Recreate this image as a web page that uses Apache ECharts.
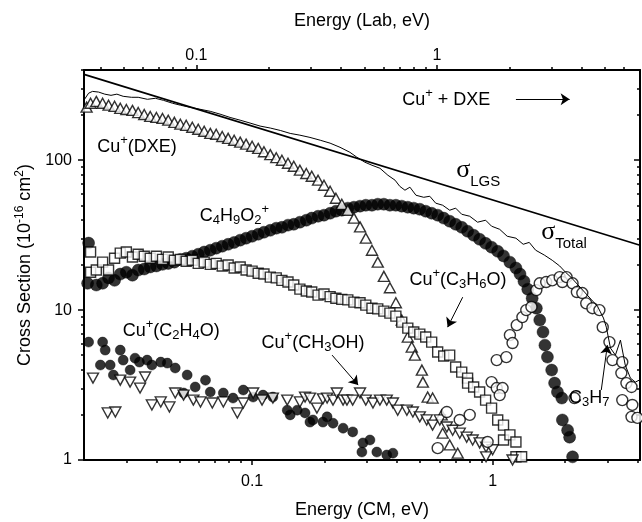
<!DOCTYPE html>
<html>
<head>
  <meta charset="UTF-8">
  <title>Cu+ + DXE cross sections</title>
  <script src="https://cdn.jsdelivr.net/npm/echarts@6.0.0/dist/echarts.min.js"></script>
  <style>
    html, body { margin: 0; padding: 0; background: #fff; }
    #chart { width: 642px; height: 522px; }
  </style>
</head>
<body>
<div id="chart"></div>
<script>
  // axis ranges and ticks (CM energy bottom, Lab energy top)
  var cmRange = [0.02, 4.1];
  var sigmaRange = [1, 400];
  var labPerCm = (63.55 + 90.12) / 90.12;
  var cmMajor = [0.1, 1];
  var cmMinor = [0.03, 0.04, 0.05, 0.06, 0.07, 0.08, 0.09, 0.2, 0.3, 0.4, 0.5, 0.6, 0.7, 0.8, 0.9, 2, 3, 4];
  var labMajor = [0.1, 1];
  var labMinor = [0.04, 0.05, 0.06, 0.07, 0.08, 0.09, 0.2, 0.3, 0.4, 0.5, 0.6, 0.7, 0.8, 0.9, 2, 3, 4, 5, 6];
  var yMajor = [1, 10, 100];
  var yMinor = [2, 3, 4, 5, 6, 7, 8, 9, 20, 30, 40, 50, 60, 70, 80, 90, 200, 300, 400];

  // [energy CM (eV), cross section (1e-16 cm2)]
  var lgs = [[0.02, 374], [4.1, 27.1]];

  var total = [
    [0.0201,255],[0.0209,280],[0.0217,288],[0.0230,285],[0.0244,276],[0.0259,271],[0.0274,276],
    [0.0291,267],[0.0315,263],[0.0336,263],[0.0367,255],[0.0396,259],[0.0428,251],[0.0467,240],
    [0.0503,233],[0.0548,226],[0.0606,219],[0.0670,212],[0.0736,203],[0.0810,193],[0.0892,185],
    [0.0981,177],[0.108,169],[0.119,164],[0.131,158],[0.144,151],[0.158,147],[0.174,142],
    [0.192,136],[0.211,130],[0.232,122],[0.255,113],[0.272,105],[0.294,97.1],[0.315,92.6],
    [0.340,88.4],[0.367,79.4],[0.393,73.6],[0.411,67.0],[0.432,63.1],[0.453,66.1],[0.480,58.4],
    [0.517,56.6],[0.548,57.5],[0.580,51.7],[0.620,50.1],[0.663,46.4],[0.702,47.9],[0.744,43.6],
    [0.803,42.3],[0.866,38.6],[0.935,39.8],[0.990,36.3],[1.07,34.6],[1.15,31.1],[1.25,30.2],
    [1.34,27.5],[1.42,28.3],[1.51,25.1],[1.64,23.3],[1.77,21.5],[1.90,19.7],[2.01,17.9],
    [2.13,16.4],[2.25,14.9],[2.41,13.2],[2.58,11.7],[2.73,10.6],[2.89,8.85],[2.97,7.70],
    [3.09,5.58],[3.24,5.01],[3.40,6.31],[3.56,4.30],[3.74,3.52],[3.92,3.31],[4.07,3.41]
  ];

  var cuDxe = [
    [0.0205,226],[0.0213,240],[0.0225,247],[0.0239,240],[0.0253,233],[0.0268,229],[0.0283,222],
    [0.0300,218],[0.0318,215],[0.0336,208],[0.0356,202],[0.0377,196],[0.0400,193],[0.0424,190],
    [0.0448,185],[0.0475,179],[0.0503,174],[0.0532,171],[0.0564,166],[0.0597,161],[0.0632,156],
    [0.0670,151],[0.0709,149],[0.0751,144],[0.0795,140],[0.0842,136],[0.0892,132],[0.0944,128],
    [0.100,124],[0.106,120],[0.112,114],[0.119,109],[0.126,104],[0.133,100],[0.141,95.5],
    [0.149,91.2],[0.158,85.8],[0.168,81.6],[0.177,78.2],[0.188,73.6],[0.199,68.1],[0.211,62.1],
    [0.223,55.8],[0.236,50.8],[0.250,46.4],[0.265,41.1],[0.281,35.9],[0.297,30.2],[0.315,25.1],
    [0.333,20.9],[0.353,16.8],[0.374,14.1],[0.396,11.2],[0.419,8.58],[0.444,6.61],[0.461,5.67],
    [0.475,5.01],[0.508,3.98],[0.513,3.31],[0.537,2.63],[0.563,2.59],[0.614,2.00],[0.620,1.51],
    [0.663,1.26],[0.716,1.11]
  ];

  var c4h9o2 = [
    [0.0207,15.1],[0.0209,28.0],[0.0225,14.7],[0.0239,15.1],[0.0253,16.4],[0.0268,15.8],[0.0283,17.4],
    [0.0300,17.9],[0.0318,17.1],[0.0336,18.5],[0.0356,18.8],[0.0377,19.4],[0.0400,19.7],[0.0424,20.2],
    [0.0448,20.5],[0.0475,20.9],[0.0503,21.8],[0.0532,22.2],[0.0564,22.9],[0.0597,23.6],[0.0632,24.4],
    [0.0670,25.1],[0.0709,25.9],[0.0751,26.7],[0.0795,27.5],[0.0842,28.3],[0.0892,29.3],[0.0944,30.2],
    [0.100,31.1],[0.106,32.1],[0.112,33.1],[0.119,34.1],[0.126,35.2],[0.133,35.7],[0.141,36.9],
    [0.149,37.4],[0.158,38.6],[0.168,39.8],[0.177,41.1],[0.188,42.3],[0.199,43.0],[0.211,44.3],
    [0.223,45.7],[0.236,46.4],[0.250,47.9],[0.265,48.6],[0.281,49.4],[0.297,50.1],[0.315,50.1],
    [0.333,50.9],[0.353,50.9],[0.374,50.1],[0.396,50.1],[0.419,49.4],[0.444,48.6],[0.470,47.9],
    [0.498,47.1],[0.527,45.7],[0.558,44.3],[0.591,43.0],[0.626,41.1],[0.663,39.2],[0.702,37.4],
    [0.744,35.7],[0.787,33.6],[0.834,31.6],[0.883,29.7],[0.935,27.9],[0.990,26.3],[1.05,24.7],
    [1.11,23.0],[1.18,20.9],[1.25,19.1],[1.30,17.4],[1.35,15.6],[1.40,13.8],[1.46,12.0],
    [1.52,10.3],[1.57,8.58],[1.62,7.14],[1.65,5.84],[1.69,4.86],[1.76,3.98],[1.81,3.26],
    [1.86,2.84],[1.94,2.59],[1.95,1.85],[2.05,1.58],[2.09,1.42],[2.15,1.05]
  ];

  var cuC3h6o = [
    [0.0213,24.4],[0.0213,17.9],[0.0225,18.5],[0.0239,20.9],[0.0253,18.5],[0.0268,22.2],[0.0283,24.0],
    [0.0300,24.4],[0.0318,22.6],[0.0336,23.6],[0.0356,22.9],[0.0377,22.2],[0.0400,22.9],[0.0424,21.8],
    [0.0448,22.6],[0.0475,21.5],[0.0503,21.8],[0.0532,21.2],[0.0564,21.5],[0.0597,20.5],[0.0632,20.9],
    [0.0670,20.2],[0.0709,20.5],[0.0751,19.7],[0.0795,20.0],[0.0842,19.1],[0.0892,19.4],[0.0944,18.5],
    [0.100,18.2],[0.106,17.6],[0.112,17.4],[0.119,16.6],[0.126,16.4],[0.133,15.8],[0.141,15.4],
    [0.149,14.7],[0.158,13.8],[0.168,13.4],[0.177,13.2],[0.188,12.6],[0.199,12.8],[0.211,12.3],
    [0.223,12.0],[0.236,11.8],[0.250,11.7],[0.265,11.3],[0.281,11.2],[0.297,10.8],[0.315,10.3],
    [0.333,10.2],[0.353,9.85],[0.374,9.55],[0.396,9.12],[0.419,8.32],[0.444,7.58],[0.470,7.14],
    [0.498,6.92],[0.527,6.61],[0.558,6.12],[0.591,5.25],[0.626,4.94],[0.663,5.01],[0.702,4.17],
    [0.744,3.86],[0.787,3.52],[0.787,3.26],[0.834,3.07],[0.883,2.84],[0.935,2.51],[0.990,2.22],
    [1.05,1.85],[1.11,1.71],[1.11,1.36],[1.18,1.47],[1.25,1.32],[1.25,1.05],[1.32,1.05]
  ];

  var cuC2h4o = [
    [0.0209,6.12],[0.0239,6.12],[0.0245,5.41],[0.0234,4.30],[0.0257,4.30],[0.0265,3.69],[0.0283,5.41],
    [0.0291,4.64],[0.0311,3.98],[0.0326,4.78],[0.0340,4.50],[0.0366,4.64],[0.0383,4.30],[0.0417,4.50],
    [0.0444,4.43],[0.0479,4.11],[0.0519,2.80],[0.0537,3.69],[0.0580,3.07],[0.0640,3.41],[0.0670,2.84],
    [0.0759,2.80],[0.0833,2.59],[0.0919,2.93],[0.101,2.63],[0.111,2.71],[0.122,2.63],[0.140,2.15],
    [0.144,2.00],[0.154,2.15],[0.166,2.06],[0.174,1.79],[0.179,1.85],[0.197,1.79],[0.205,1.94],
    [0.217,1.76],[0.239,1.63],[0.262,1.54],[0.286,1.13],[0.289,1.30],[0.309,1.36],[0.330,1.13],
    [0.363,1.08],[0.385,1.11]
  ];

  var cuCh3oh = [
    [0.0218,3.52],[0.0251,2.06],[0.0270,2.09],[0.0283,3.41],[0.0311,3.31],[0.0342,3.02],[0.0359,3.58],
    [0.0383,2.33],[0.0417,2.44],[0.0453,2.26],[0.0479,2.80],[0.0519,2.71],[0.0570,2.51],[0.0610,2.44],
    [0.0683,2.40],[0.0759,2.44],[0.0868,2.06],[0.0919,2.40],[0.101,2.80],[0.110,2.51],[0.122,2.59],
    [0.140,2.51],[0.158,2.44],[0.166,2.63],[0.174,2.59],[0.186,2.22],[0.197,2.56],[0.205,2.59],
    [0.217,2.51],[0.225,2.80],[0.239,2.51],[0.248,2.51],[0.262,2.51],[0.281,2.80],[0.297,2.51],
    [0.318,2.40],[0.340,2.51],[0.363,2.51],[0.385,2.40],[0.403,2.15],[0.440,2.15],[0.466,2.09],
    [0.498,1.94],[0.532,1.85],[0.563,1.71],[0.603,1.85],[0.645,1.66],[0.682,1.58],[0.730,1.51],
    [0.780,1.42],[0.826,1.36],[0.883,1.30],[0.939,1.22],[1.0,1.17],[0.939,1.05],[1.21,1.0]
  ];

  var c3h7 = [
    [0.591,1.20],[0.645,2.09],[0.730,1.85],[0.803,2.00],[0.953,1.32],[0.990,3.31],[1.04,3.02],
    [1.10,3.02],[1.07,2.71],[1.04,4.64],[1.14,4.86],[1.18,6.81],[1.21,6.03],[1.26,7.94],[1.33,8.98],
    [1.38,10.0],[1.45,10.5],[1.52,13.6],[1.57,15.1],[1.67,15.4],[1.77,15.8],[1.90,16.6],[1.95,15.4],
    [2.03,16.6],[2.15,15.1],[2.24,13.2],[2.36,13.0],[2.45,11.1],[2.60,10.3],[2.78,10.0],[2.87,7.70],
    [3.06,6.12],[3.15,4.64],[3.46,4.50],[3.43,3.80],[3.60,3.26],[3.78,3.07],[3.46,2.51],[3.81,2.33],
    [3.78,1.94],[4.0,1.91],[2.19,2.59]
  ];

  var INK = '#000';
  var FONT = "'Liberation Sans', Arial, Helvetica, sans-serif";

  function fmt(v) { return String(+Number(v).toPrecision(3)); }

  function tickAxis(o) {
    var ax = {
      type: 'log', logBase: 10, position: o.position, min: o.min, max: o.max, offset: 0,
      axisLine: { show: !!o.line, onZero: false, lineStyle: { color: INK, width: 2 } },
      splitLine: { show: false },
      axisTick: { show: true, inside: !!o.inside, length: o.len, customValues: o.ticks,
        lineStyle: { color: INK, width: 1.5 } },
      axisLabel: o.labels ? { show: true, customValues: o.labels, formatter: fmt, margin: o.margin,
        color: INK, fontFamily: FONT, fontSize: 16 } : { show: false }
    };
    if (o.name) {
      ax.name = o.name;
      ax.nameLocation = 'middle';
      ax.nameGap = o.nameGap;
      ax.nameMoveOverlap = false;
      ax.nameTextStyle = { color: INK, fontFamily: FONT, fontSize: 18,
        rich: { sup: { fontFamily: FONT, fontSize: 12, padding: [0, 0, 10, 0], color: INK } } };
    }
    return ax;
  }

  var labRange = [cmRange[0] * labPerCm, cmRange[1] * labPerCm];

  var rich = {
    sub: { fontFamily: FONT, fontSize: 13, padding: [10, 0, 0, 0], color: INK },
    sup: { fontFamily: FONT, fontSize: 13, padding: [0, 0, 12, 0], color: INK },
    g: { fontFamily: "'Liberation Serif', serif", fontSize: 26, color: INK },
    s: { fontFamily: FONT, fontSize: 15, padding: [24, 0, 0, 0], color: INK }
  };

  function note(coord, text) {
    return { coord: coord, label: { formatter: text } };
  }
  function arrow(a, b) {
    return [{ coord: a }, { coord: b }];
  }

  function marks(name, data, symbol, size, filled, extra) {
    var s = {
      name: name, type: 'scatter', data: data, symbol: symbol, symbolSize: size,
      xAxisIndex: 0, yAxisIndex: 0, animation: false, silent: true,
      itemStyle: filled ? { color: INK, borderColor: INK, borderWidth: 0.5 }
                        : { color: '#fff', borderColor: INK, borderWidth: 1.4 },
      emphasis: { disabled: true }
    };
    return Object.assign(s, extra || {});
  }

  var chart = echarts.init(document.getElementById('chart'));
  chart.setOption({
    backgroundColor: '#fff',
    animation: false,
    grid: { left: 84, right: 2, top: 70, bottom: 62, outerBoundsMode: 'none', containLabel: false },
    xAxis: [
      tickAxis({ position: 'bottom', min: cmRange[0], max: cmRange[1], ticks: cmMajor, len: 5,
        labels: cmMajor, margin: 14, line: true, name: 'Energy (CM, eV)', nameGap: 41 }),
      tickAxis({ position: 'bottom', min: cmRange[0], max: cmRange[1], ticks: cmMinor, len: 3 }),
      tickAxis({ position: 'top', min: labRange[0], max: labRange[1], ticks: labMajor, len: 5,
        labels: labMajor, margin: 6, line: true, name: 'Energy (Lab, eV)', nameGap: 40 }),
      tickAxis({ position: 'top', min: labRange[0], max: labRange[1], ticks: labMinor, len: 3 })
    ],
    yAxis: [
      tickAxis({ position: 'left', min: sigmaRange[0], max: sigmaRange[1], ticks: yMajor, len: 6,
        labels: yMajor, margin: 12, line: true,
        name: 'Cross Section (10{sup|-16} cm{sup|2})', nameGap: 48 }),
      tickAxis({ position: 'left', min: sigmaRange[0], max: sigmaRange[1], ticks: yMinor, len: 3 }),
      tickAxis({ position: 'right', min: sigmaRange[0], max: sigmaRange[1], ticks: yMajor, len: 6,
        inside: true, line: true }),
      tickAxis({ position: 'right', min: sigmaRange[0], max: sigmaRange[1], ticks: yMinor, len: 3,
        inside: true })
    ],
    series: [
      { name: 'LGS', type: 'line', data: lgs, showSymbol: false, silent: true,
        lineStyle: { color: INK, width: 1.6 }, xAxisIndex: 0, yAxisIndex: 0 },
      { name: 'Total', type: 'line', data: total, showSymbol: false, silent: true,
        lineStyle: { color: INK, width: 1 }, xAxisIndex: 0, yAxisIndex: 0 },
      marks('C4H9O2+', c4h9o2, 'circle', 12, true),
      marks('Cu+(C2H4O)', cuC2h4o, 'circle', 10, true),
      marks('Cu+(DXE)', cuDxe, 'triangle', [11, 10], false),
      marks('Cu+(C3H6O)', cuC3h6o, 'rect', 10, false),
      marks('Cu+(CH3OH)', cuCh3oh, 'triangle', [11, 10], false, { symbolRotate: 180 }),
      marks('C3H7', c3h7, 'circle', 11, false),
      {
        name: 'notes', type: 'scatter', data: [], xAxisIndex: 0, yAxisIndex: 0, silent: true,
        markPoint: {
          symbol: 'circle', symbolSize: 1, animation: false, silent: true,
          itemStyle: { color: 'rgba(0,0,0,0)' },
          label: { show: true, position: [0, 0], align: 'left', verticalAlign: 'middle',
            color: INK, fontFamily: FONT, fontSize: 18, rich: rich },
          data: [
            note([0.0228, 122], 'Cu{sup|+}(DXE)'),
            note([0.0609, 42.4], 'C{sub|4}H{sub|9}O{sub|2}{sup|+}'),
            note([0.709, 85.8], '{g|σ}{s|LGS}'),
            note([1.60, 33.0], '{g|σ}{s|Total}'),
            note([0.453, 15.8], 'Cu{sup|+}(C{sub|3}H{sub|6}O)'),
            note([0.0291, 7.24], 'Cu{sup|+}(C{sub|2}H{sub|4}O)'),
            note([0.110, 6.03], 'Cu{sup|+}(CH{sub|3}OH)'),
            note([2.09, 2.59], 'C{sub|3}H{sub|7}'),
            note([0.423, 251], 'Cu{sup|+} + DXE')
          ]
        },
        markLine: {
          silent: true, animation: false, symbol: ['none', 'arrow'], symbolSize: 9,
          label: { show: false },
          lineStyle: { color: INK, width: 1, type: 'solid' },
          data: [
            arrow([1.25, 255], [2.09, 255]),
            arrow([0.751, 12.2], [0.650, 7.70]),
            arrow([0.215, 5.01], [0.276, 3.16]),
            arrow([2.83, 2.93], [3.00, 5.84])
          ]
        }
      }
    ]
  });
</script>
</body>
</html>
